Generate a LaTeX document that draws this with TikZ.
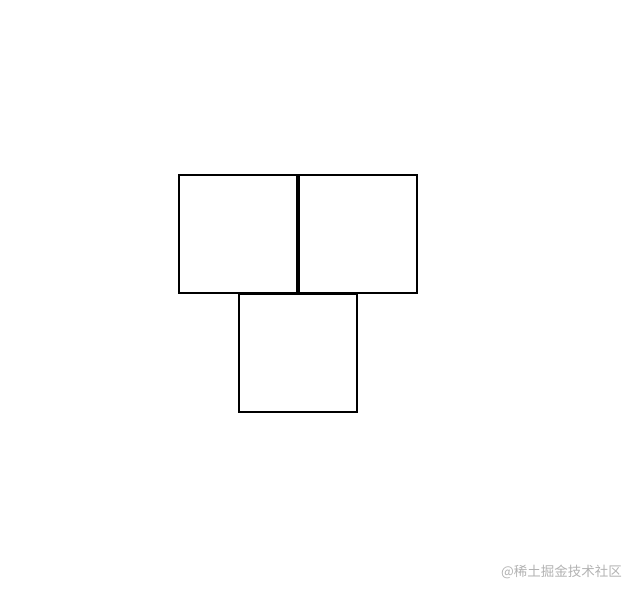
\documentclass[tikz,border=0pt]{standalone}
\usepackage{fontspec}
\newfontfamily\cjk{Noto Sans CJK SC}
\usepackage{tikz}
\usetikzlibrary{positioning}

\begin{document}
\begin{tikzpicture}[x=1pt, y=1pt,
  box/.style={draw, line width=2pt, minimum size=118pt, inner sep=0pt},
  watermark/.style={text=black!30, font=\cjk\fontsize{13.5}{16}\selectfont, inner sep=0pt}]
  \useasboundingbox (0,0) rectangle (638,596);
  \node[box] (left) at (238,362) {};
  \node[box, right=0pt of left] (right) {};
  \node[box, below=-1pt of left.south east] (bottom) {};
  \node[watermark, anchor=east] (wm) at (622,24) {@稀土掘金技术社区};
\end{tikzpicture}
\end{document}
